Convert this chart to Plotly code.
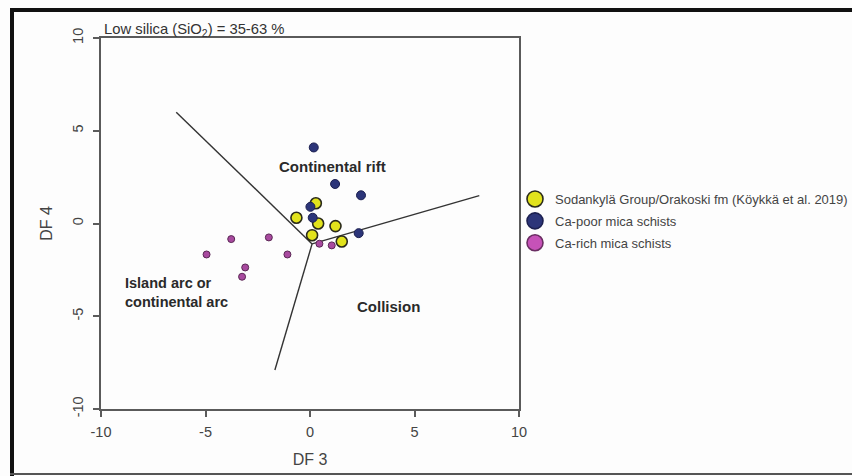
import plotly.graph_objects as go

# Discriminant-function scores (DF3, DF4) for each sample group
sodankyla_df3 = [0.28, -0.65, 0.39, 1.22, 0.10, 1.52]
sodankyla_df4 = [1.09, 0.31, 0.00, -0.14, -0.63, -0.97]

ca_poor_df3 = [0.18, 1.20, 2.44, 0.02, 0.13, 2.33]
ca_poor_df4 = [4.10, 2.13, 1.52, 0.90, 0.31, -0.52]

ca_rich_df3 = [0.45, 1.04, -3.77, -1.97, -4.95, -1.08, -3.10, -3.25]
ca_rich_df4 = [-1.09, -1.18, -0.84, -0.75, -1.67, -1.67, -2.37, -2.87]

# Tectonic field boundaries: three segments meeting at a common junction
junction = (0.1, -1.1)
boundary_ends = [(-6.4, 6.0), (8.1, 1.5), (-1.68, -7.9)]

field_labels = ["Continental rift", "Island arc or<br>continental arc", "Collision"]
field_label_pos = [(1.09, 3.1), (-8.95, -3.74), (3.77, -4.46)]

series_names = [
    "Sodankylä Group/Orakoski fm (Köykkä et al. 2019)",
    "Ca-poor mica schists",
    "Ca-rich mica schists",
]

axis_ticks = [-10, -5, 0, 5, 10]

FONT = "Arial, Liberation Sans, sans-serif"
W, H = 852, 476
L, R, T, B = 101, 333, 38, 67

fig = go.Figure()

for (ex, ey) in boundary_ends:
    fig.add_trace(go.Scatter(
        x=[junction[0], ex], y=[junction[1], ey], mode="lines",
        line=dict(color="#333333", width=1.4), showlegend=False, hoverinfo="skip",
    ))

groups = [
    (sodankyla_df3, sodankyla_df4, "#e2e31c", "#2a2a1a", 1.6, 11),
    (ca_poor_df3, ca_poor_df4, "#2c3579", "#1c2050", 1.0, 9),
    (ca_rich_df3, ca_rich_df4, "#a84a9f", "#5a2854", 1.0, 7),
]
for xs, ys, fill, edge, ew, size in groups:
    fig.add_trace(go.Scatter(
        x=xs, y=ys, mode="markers", showlegend=False,
        marker=dict(color=fill, size=size, line=dict(color=edge, width=ew)),
    ))

# legend keys drawn at a larger size than the plotted points
legend_fills = ["#e2e31c", "#2c3579", "#c652b8"]
legend_edges = ["#2a2a1a", "#1c2050", "#6a2e62"]
for i, name in enumerate(series_names):
    fig.add_trace(go.Scatter(
        x=[None], y=[None], mode="markers", name=name, legendgroup=f"g{i}",
        marker=dict(color=legend_fills[i], size=16,
                    line=dict(color=legend_edges[i], width=1.6)),
    ))

for text, (tx, ty) in zip(field_labels, field_label_pos):
    left = text.startswith("Island")
    fig.add_annotation(
        x=tx, y=ty, text=f"<b>{text}</b>", showarrow=False,
        xanchor="left" if left else "center", yanchor="middle", align="left",
        font=dict(family=FONT, size=14.5 if left else 15, color="#2a2a2a"),
    )

# heading above the plot box
pw, ph = W - L - R, H - T - B
def px(xp):
    return (xp - L) / pw
def py(yp):
    return (H - B - yp) / ph

fig.add_annotation(
    xref="paper", yref="paper", x=px(102), y=py(30),
    text="Low silica (SiO<sub>2</sub>) = 35-63 %", showarrow=False,
    xanchor="left", yanchor="middle", font=dict(family=FONT, size=14.8, color="#333333"),
)

# outer frame around the figure panel
fig.add_shape(type="line", xref="paper", yref="paper",
              x0=px(10), x1=px(870), y0=py(10), y1=py(10),
              line=dict(color="#111111", width=4))
fig.add_shape(type="line", xref="paper", yref="paper",
              x0=px(12), x1=px(12), y0=py(8), y1=py(476),
              line=dict(color="#111111", width=4))
fig.add_shape(type="line", xref="paper", yref="paper",
              x0=px(10), x1=px(870), y0=py(474), y1=py(474),
              line=dict(color="#555555", width=2))

axis_common = dict(
    range=[-10, 10], tickvals=axis_ticks, ticktext=[str(v) for v in axis_ticks],
    showgrid=False, zeroline=False, showline=True, mirror=True,
    linecolor="#5a5a5a", linewidth=1.5, ticks="outside", ticklen=6,
    tickcolor="#5a5a5a", tickwidth=1.5,
    tickfont=dict(family=FONT, size=14.5, color="#444444"),
)

fig.update_xaxes(**axis_common, title=dict(text="DF 3", standoff=15,
                 font=dict(family=FONT, size=16, color="#444444")),
                 ticklabelstandoff=3)
fig.update_yaxes(**axis_common, tickangle=-90, ticklabelstandoff=4,
                 title=dict(text="DF 4", standoff=14,
                            font=dict(family=FONT, size=16, color="#444444")))

fig.update_layout(
    width=W, height=H,
    margin=dict(l=L, r=R, t=T, b=B, autoexpand=False),
    paper_bgcolor="#fdfdfd", plot_bgcolor="#fdfdfd",
    font=dict(family=FONT, color="#444444"),
    legend=dict(
        x=px(515), y=py(184), xanchor="left", yanchor="top",
        font=dict(family=FONT, size=13, color="#444444"),
        bgcolor="rgba(0,0,0,0)", tracegroupgap=2, itemwidth=30,
    ),
)

fig.write_html("out.html")
